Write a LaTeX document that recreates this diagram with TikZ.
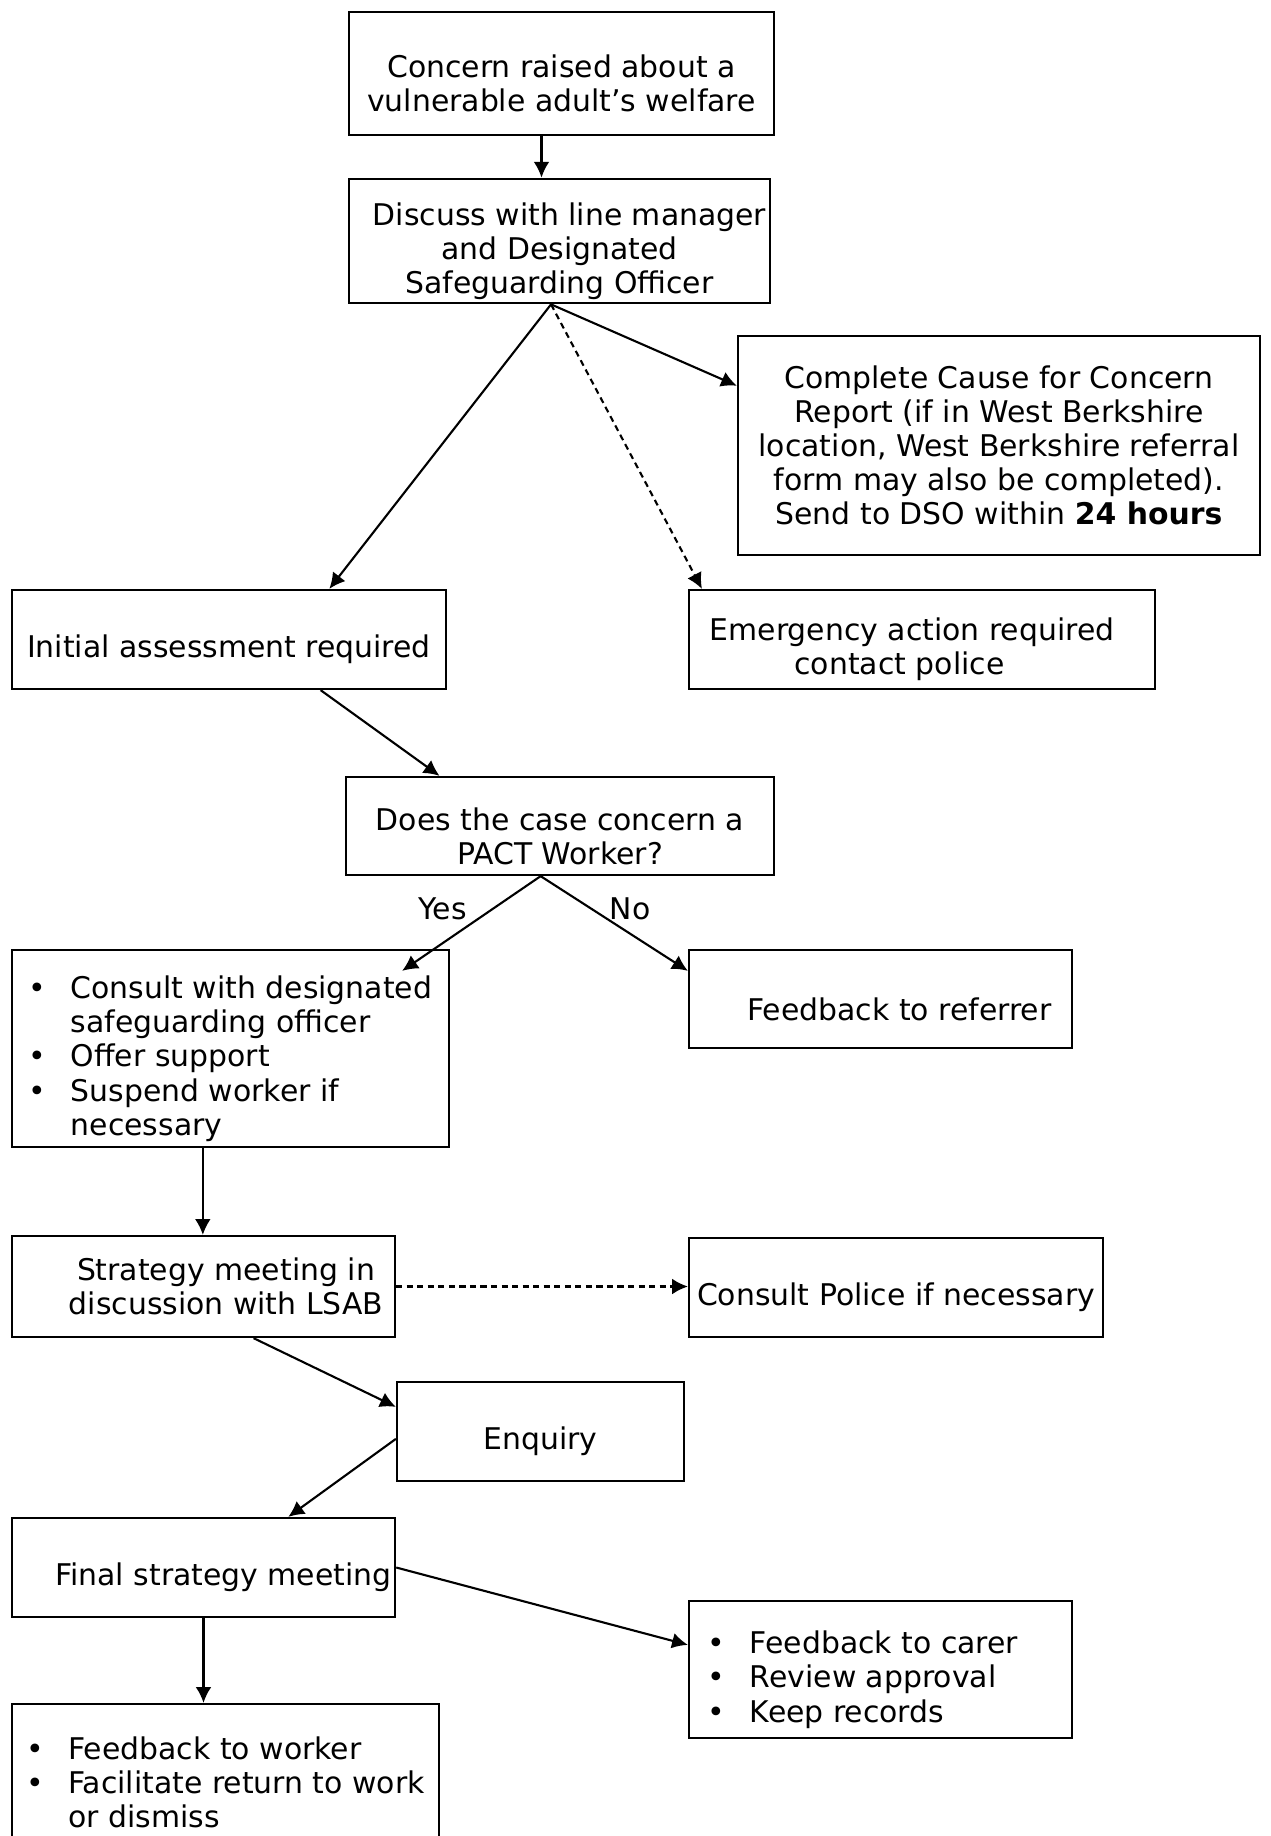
\documentclass[tikz,border=0pt]{standalone}
\usepackage{fontspec}
\setmainfont{DejaVu Sans}
\usetikzlibrary{positioning,calc,arrows.meta}
\newcommand{\topgap}{\rule{0pt}{24.5pt}}
\newcommand{\bitem}{\makebox[0.84cm][l]{•}}
\newcommand{\bcont}{\hspace*{0.84cm}}
\tikzset{
  box/.style={draw, line width=1.3pt, align=center, inner sep=2pt,
              minimum width=#1, font=\fontsize{17}{19.4}\selectfont,
              execute at begin node={\topgap}},
  box/.default=8cm,
  flat/.style={execute at begin node={}},
  flow/.style={-{Latex[length=9pt,width=9pt]}, line width=1.2pt},
  dflow/.style={flow, dash pattern=on 3.5pt off 2.5pt},
  tag/.style={font=\fontsize{17}{19.4}\selectfont, inner sep=1pt},
}

\begin{document}
\begin{tikzpicture}[x=0.02cm, y=-0.02cm]
  \useasboundingbox (0,0) rectangle (1271,1836);
  % boxes
  \node[box=8.5cm, minimum height=2.46cm] (concern) at (561.5,73.5) {\topgap Concern raised about a\\vulnerable adult’s welfare};
  \node[box=8.42cm, minimum height=2.48cm] (discuss) at (559.5,241) {\topgap\hspace*{0.4cm}Discuss with line manager\\and Designated\\Safeguarding Officer};
  \node[box=10.44cm, minimum height=4.38cm, flat] (report) at (999,445.5) {Complete Cause for Concern\\Report (if in West Berkshire\\location, West Berkshire referral\\form may also be completed).\\Send to DSO within \textbf{24 hours}};
  \node[box=8.68cm, minimum height=1.98cm] (initial) at (229,639.5) {Initial assessment required};
  \node[box=9.32cm, minimum height=1.98cm] (emergency) at (922,639.5) {\topgap Emergency action required\hspace*{0.4cm}\\contact police\hspace*{0.9cm}};
  \node[box=8.56cm, minimum height=1.96cm] (pact) at (560,826) {\topgap Does the case concern a\\PACT Worker?};
  \node[box=8.74cm, minimum height=3.94cm, align=left] (consult) at (230.5,1048.5) {\topgap\bitem Consult with designated\\\bcont safeguarding officer\\\bitem Offer support\\\bitem Suspend worker if\\\bcont necessary};
  \node[box=7.66cm, minimum height=1.96cm] (referrer) at (880.5,999) {\hspace*{0.76cm}Feedback to referrer};
  \node[box=7.66cm, minimum height=2.02cm, flat] (strategy) at (203.5,1286.5) {\hspace*{0.9cm}Strategy meeting in\\\hspace*{0.9cm}discussion with LSAB};
  \node[box=8.28cm, minimum height=1.98cm] (police) at (896,1287.5) {Consult Police if necessary};
  \node[box=5.74cm, minimum height=1.98cm] (enquiry) at (540.5,1431.5) {Enquiry};
  \node[box=7.66cm, minimum height=1.98cm] (final) at (203.5,1567.5) {\hspace*{0.8cm}Final strategy meeting};
  \node[box=7.66cm, minimum height=2.74cm, align=left] (carer) at (880.5,1669.5) {\topgap\bitem Feedback to carer\hspace*{0.7cm}\\\bitem Review approval\\\bitem Keep records};
  \node[box=8.54cm, minimum height=3.12cm, align=left, flat] (worker) at (225.5,1782) {\bitem Feedback to worker\\\bitem Facilitate return to work\\\bcont or dismiss};
  % connectors
  \coordinate (dout) at ($(discuss.south west)!0.48!(discuss.south east)$);
  \coordinate (pout) at ($(pact.south west)!0.455!(pact.south east)$);
  \coordinate (cout) at ($(consult.south west)!0.437!(consult.south east)$);
  \draw[flow] ([xshift=-0.4cm]concern.south) -- ([xshift=-0.4cm]concern.south |- discuss.north);
  \draw[flow] (dout) -- ($(initial.north west)!0.73!(initial.north east)$);
  \draw[flow] (dout) -- ($(report.north west)!0.23!(report.south west)$);
  \draw[dflow] (dout) -- ($(emergency.north west)!0.03!(emergency.north east)$);
  \draw[flow] ($(initial.south west)!0.71!(initial.south east)$) -- ($(pact.north west)!0.22!(pact.north east)$);
  \draw[flow] (pout) -- node[tag, pos=0.35, left=0.45cm] {Yes} ($(consult.north east)+(-48,22)$);
  \draw[flow] (pout) -- node[tag, pos=0.35, right=0.3cm] {No} ($(referrer.north west)+(0,22)$);
  \draw[flow] (cout) -- (cout |- strategy.north);
  \draw[dflow] (strategy.east) -- (strategy.east -| police.west);
  \draw[flow] ($(strategy.south west)!0.63!(strategy.south east)$) -- ($(enquiry.north west)+(0,26)$);
  \draw[flow] ($(enquiry.north west)+(0,58)$) -- ($(final.north west)!0.72!(final.north east)$);
  \draw[flow] (final.east) -- ($(carer.north west)+(0,45)$);
  \draw[flow] (final.south) -- (final.south |- worker.north);
\end{tikzpicture}
\end{document}
